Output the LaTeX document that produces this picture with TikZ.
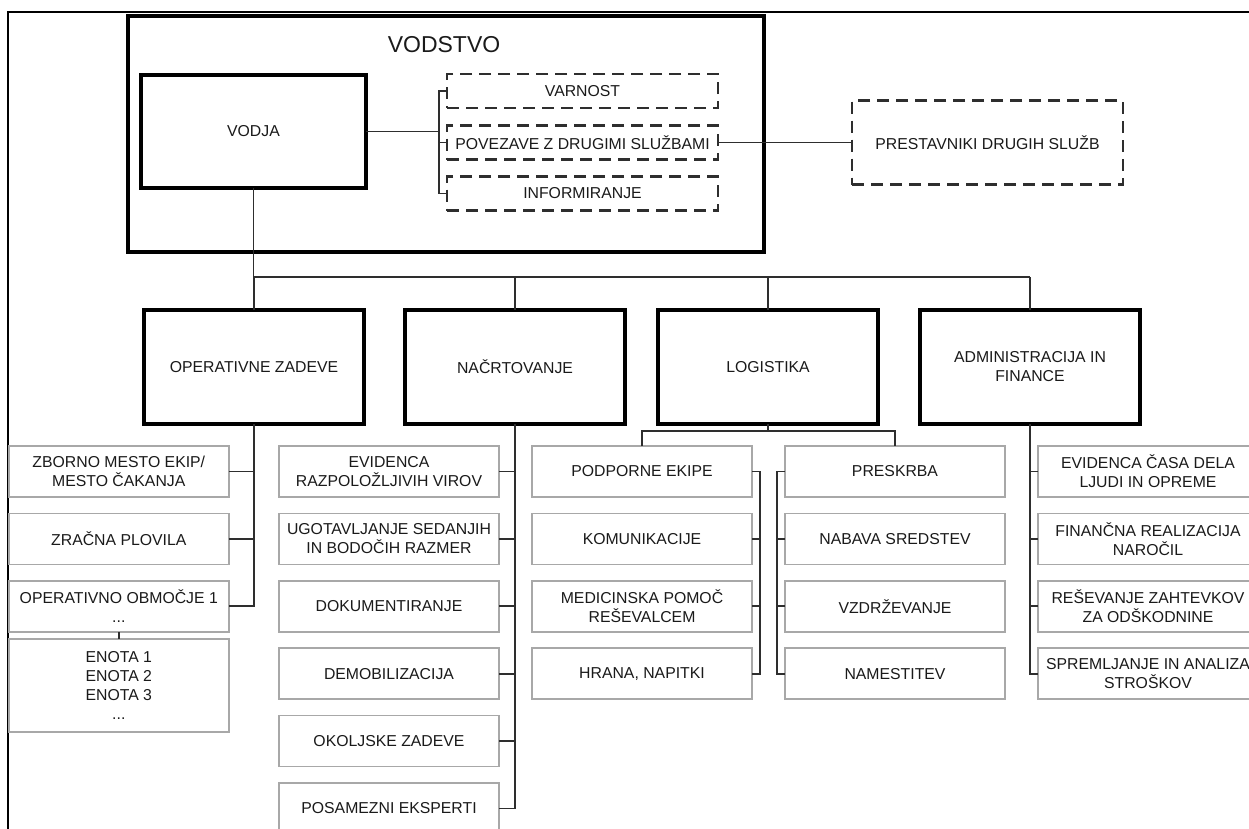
\documentclass[tikz,border=0pt]{standalone}
\usepackage{fontspec}
\setmainfont{Liberation Sans}
\newcommand{\fs}{\fontsize{15.8}{19}\selectfont}
\newcommand{\fsbig}{\fontsize{23}{27}\selectfont}
\definecolor{txt}{HTML}{1A1A1A}
\definecolor{conn}{HTML}{2E2E2E}
\definecolor{cbord}{HTML}{A8A8A8}
\begin{document}
\begin{tikzpicture}[x=1pt,y=-1pt,
  every node/.style={inner sep=0pt, outer sep=0pt, align=center, font=\fs, text=txt},
  mainbox/.style={draw=black, line width=3.6pt, minimum width=220pt, minimum height=114pt, fill=white},
  childbox/.style={draw=cbord, line width=1.5pt, minimum width=220pt, minimum height=51pt, fill=white},
  dashbox/.style={draw=conn, line width=2.2pt, dash pattern=on 12pt off 7pt, minimum width=271pt, minimum height=34pt, fill=white},
  link/.style={draw=conn, line width=1.7pt},
  frame/.style={draw=black, line width=1.7pt}
]
\useasboundingbox (0,0) rectangle (1249,828);
\clip (0,0) rectangle (1249,828);

% outer frame (cropped page border)
\coordinate (fTL) at (8.3,12.3);
\coordinate (fBL) at (8.3,840);
\coordinate (fTR) at (1260,12.3);
\draw[frame] (fBL) -- (fTL) -- (fTR);

% leadership group
\node[draw=black, line width=3.6pt, minimum width=636pt, minimum height=236pt] (vodstvo) at (446,134) {};
\node[font=\fsbig] (vodstvotitle) at (444,45) {VODSTVO};
\node[draw=black, line width=3.6pt, minimum width=225pt, minimum height=113pt, fill=white] (vodja) at (253.5,131.5) {VODJA};
\node[dashbox] (varn) at (582.5,91) {VARNOST};
\node[dashbox] (pov) at (582.5,142.5) {POVEZAVE Z DRUGIMI SLUŽBAMI};
\node[dashbox] (info) at (582.5,193.5) {INFORMIRANJE};
\node[dashbox, minimum height=84pt] (prest) at (987.5,142.5) {PRESTAVNIKI DRUGIH SLUŽB};

\coordinate (brk) at (439,0);
\draw[link] (vodja.east) -- (vodja.east -| brk);
\draw[link] (varn.west) -- (varn.west -| brk) -- (info.west -| brk) -- (info.west);
\draw[link] (pov.west) -- (pov.west -| brk);
\draw[link] (pov.east) -- (prest.west);

% main sections
\node[mainbox] (ops) at (254,367) {OPERATIVNE ZADEVE};
\node[mainbox] (nac) at (515,367) {NAČRTOVANJE};
\node[mainbox] (log) at (768,367) {LOGISTIKA};
\node[mainbox] (adm) at (1030,367) {ADMINISTRACIJA IN\\FINANCE};

\coordinate (bus) at (0,277);
\draw[link] (vodja.south) -- (vodja.south |- bus);
\draw[link] (ops.north |- bus) -- (adm.north |- bus);
\draw[link] (ops.north) -- (ops.north |- bus);
\draw[link] (nac.north) -- (nac.north |- bus);
\draw[link] (log.north) -- (log.north |- bus);
\draw[link] (adm.north) -- (adm.north |- bus);

% operative
\node[childbox] (a1) at (118.8,471.5) {ZBORNO MESTO EKIP/\\MESTO ČAKANJA};
\node[childbox] (a2) at (118.8,538.9) {ZRAČNA PLOVILA};
\node[childbox] (a3) at (118.8,606.3) {OPERATIVNO OBMOČJE 1\\...};
\node[childbox, minimum height=93pt] (enota) at (118.8,685.5) {ENOTA 1\\ENOTA 2\\ENOTA 3\\...};
\draw[link] (ops.south) -- (ops.south |- a3.east) -- (a3.east);
\draw[link] (a1.east) -- (a1.east -| ops.south);
\draw[link] (a2.east) -- (a2.east -| ops.south);
\draw[link] (a3.south) -- (enota.north);

% planning
\node[childbox] (b1) at (389,471.5) {EVIDENCA\\RAZPOLOŽLJIVIH VIROV};
\node[childbox] (b2) at (389,538.9) {UGOTAVLJANJE SEDANJIH\\IN BODOČIH RAZMER};
\node[childbox] (b3) at (389,606.3) {DOKUMENTIRANJE};
\node[childbox] (b4) at (389,673.7) {DEMOBILIZACIJA};
\node[childbox] (b5) at (389,741.1) {OKOLJSKE ZADEVE};
\node[childbox] (b6) at (389,808.5) {POSAMEZNI EKSPERTI};
\draw[link] (nac.south) -- (nac.south |- b6.east) -- (b6.east);
\foreach \n in {b1,b2,b3,b4,b5}{\draw[link] (\n.east) -- (\n.east -| nac.south);}

% logistics
\node[childbox] (c1) at (642,471.5) {PODPORNE EKIPE};
\node[childbox] (c2) at (642,538.9) {KOMUNIKACIJE};
\node[childbox] (c3) at (642,606.3) {MEDICINSKA POMOČ\\REŠEVALCEM};
\node[childbox] (c4) at (642,673.7) {HRANA, NAPITKI};
\node[childbox] (d1) at (895,471.5) {PRESKRBA};
\node[childbox] (d2) at (895,538.9) {NABAVA SREDSTEV};
\node[childbox] (d3) at (895,606.3) {VZDRŽEVANJE};
\node[childbox] (d4) at (895,673.7) {NAMESTITEV};
\coordinate (split) at (0,431);
\draw[link] (log.south) -- (log.south |- split);
\draw[link] (c1.north) -- (c1.north |- split) -- (d1.north |- split) -- (d1.north);
\coordinate (cb) at (760,0);
\coordinate (db) at (777,0);
\draw[link] (c1.east) -- (c1.east -| cb) -- (c4.east -| cb) -- (c4.east);
\draw[link] (c2.east) -- (c2.east -| cb);
\draw[link] (c3.east) -- (c3.east -| cb);
\draw[link] (d1.west) -- (d1.west -| db) -- (d4.west -| db) -- (d4.west);
\draw[link] (d2.west) -- (d2.west -| db);
\draw[link] (d3.west) -- (d3.west -| db);

% administration
\node[childbox] (e1) at (1148,471.5) {EVIDENCA ČASA DELA\\LJUDI IN OPREME};
\node[childbox] (e2) at (1148,538.9) {FINANČNA REALIZACIJA\\NAROČIL};
\node[childbox] (e3) at (1148,606.3) {REŠEVANJE ZAHTEVKOV\\ZA ODŠKODNINE};
\node[childbox] (e4) at (1148,673.7) {SPREMLJANJE IN ANALIZA\\STROŠKOV};
\draw[link] (adm.south) -- (adm.south |- e4.west) -- (e4.west);
\foreach \n in {e1,e2,e3}{\draw[link] (\n.west) -- (\n.west -| adm.south);}
\end{tikzpicture}
\end{document}
